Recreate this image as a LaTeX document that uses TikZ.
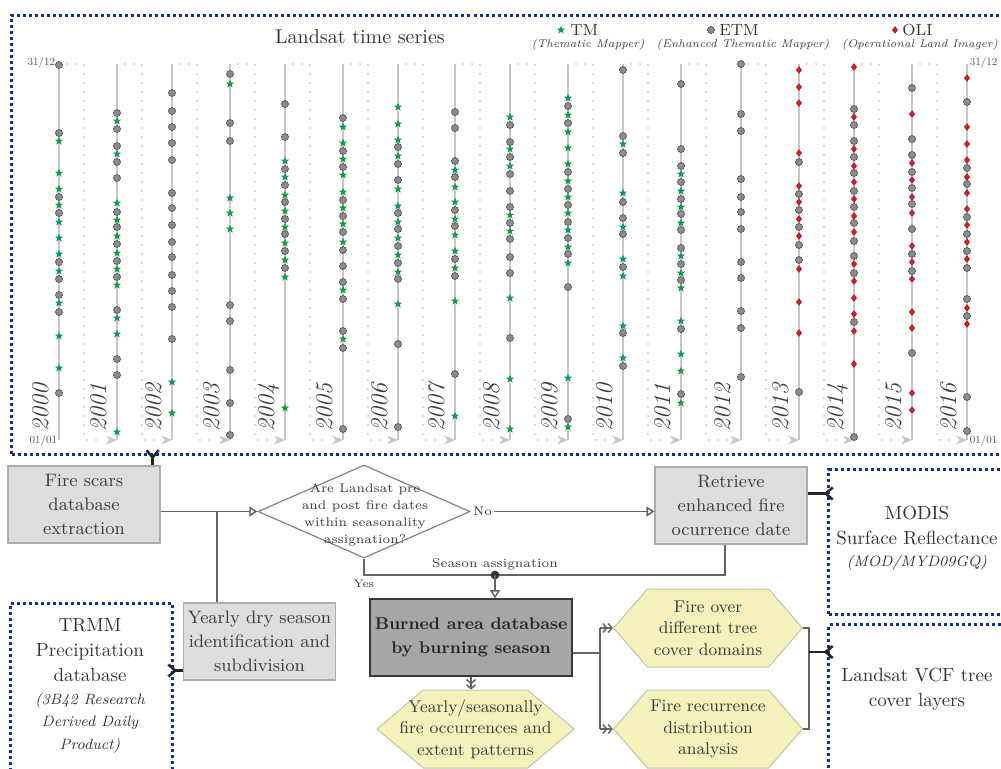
\documentclass[tikz,border=0pt]{standalone}
\usepackage{fontspec}
\usetikzlibrary{arrows.meta,shapes.geometric,shapes.symbols,calc}

\definecolor{tmgreen}{RGB}{16,158,72}
\definecolor{etmfill}{RGB}{140,140,140}
\definecolor{etmedge}{RGB}{85,85,85}
\definecolor{olired}{RGB}{226,24,32}
\definecolor{axisgray}{RGB}{198,198,198}
\definecolor{dotgray}{RGB}{185,185,185}
\definecolor{framblue}{RGB}{18,48,155}
\definecolor{boxfill}{RGB}{221,221,221}
\definecolor{boxedge}{RGB}{172,172,172}
\definecolor{burnfill}{RGB}{166,166,166}
\definecolor{burnedge}{RGB}{55,55,55}
\definecolor{hexfill}{RGB}{245,241,186}
\definecolor{hexedge}{RGB}{195,195,175}
\definecolor{flowgray}{RGB}{100,100,100}
\definecolor{txtgray}{RGB}{60,60,60}

\newcommand{\fsz}[2]{\fontsize{#1}{#2}\selectfont}
% markers of the three sensors
\newcommand{\etmpts}[2]{\foreach \d in {#2}{\filldraw[etmdot] (#1,\d) circle (1.75pt);}}
\newcommand{\tmpts}[2]{\foreach \d in {#2}{\fill[tmgreen] (#1,\d) +(90:2.2pt) -- +(126:0.9pt) -- +(162:2.2pt) -- +(198:0.9pt) -- +(234:2.2pt) -- +(270:0.9pt) -- +(306:2.2pt) -- +(342:0.9pt) -- +(18:2.2pt) -- +(54:0.9pt) -- cycle;}}
\newcommand{\olipts}[2]{\foreach \d in {#2}{\filldraw[olidot] (#1,\d) +(0pt,1.7pt) -- +(1.3pt,0pt) -- +(0pt,-1.7pt) -- +(-1.3pt,0pt) -- cycle;}}

\begin{document}
\begin{tikzpicture}[x=0.5pt,y=-0.5pt,
  axisline/.style={axisgray, line width=0.75pt},
  wrapdots/.style={dotgray, line width=0.8pt, line cap=round, dash pattern=on 0pt off 4.5pt},
  wraptip/.style={fill=axisgray},
  etmdot/.style={fill=etmfill, draw=etmedge, line width=0.35pt},
  olidot/.style={fill=olired, draw=olired!70!black, line width=0.2pt},
  yearlbl/.style={font=\fsz{12}{14}\itshape, text=txtgray, inner sep=0pt},
  datelbl/.style={font=\fsz{10}{12}, scale=0.55, transform shape, text=txtgray!90, inner sep=0.5pt},
  titletxt/.style={font=\fsz{10}{12}, text=black!80},
  legname/.style={font=\fsz{8}{9}, text=black!80, inner sep=1pt},
  legsub/.style={font=\fsz{5.6}{7}\itshape, text=txtgray, inner sep=1pt},
  procbox/.style={rectangle, draw=boxedge, fill=boxfill, line width=0.6pt, text=txtgray, align=center, font=\fsz{9}{12}, minimum width=76pt, minimum height=38.5pt, inner sep=1pt},
  burnbox/.style={procbox, fill=burnfill, draw=burnedge, line width=0.8pt, text=black!85, font=\fsz{8.5}{12}\bfseries, minimum width=101pt},
  hexnode/.style={signal, signal to=west and east, signal pointer angle=98, draw=hexedge, fill=hexfill, line width=0.5pt, text=txtgray, align=center, font=\fsz{8.5}{10.75}, minimum width=94.5pt, minimum height=39pt, inner xsep=-12pt, inner ysep=0pt},
  asknode/.style={diamond, draw=flowgray!80, fill=white, line width=0.6pt, minimum width=106pt, minimum height=46.5pt, inner sep=0pt},
  asktext/.style={align=center, font=\fsz{6.3}{8.5}, text=txtgray},
  lbl/.style={font=\fsz{6.3}{7.5}, text=txtgray, inner sep=1pt},
  flow/.style={flowgray, line width=0.75pt},
  openhead/.style={-{Triangle[fill=white, length=4pt, width=5pt]}},
  dblhead/.style={-{Straight Barb[length=1.8pt,width=4.5pt] Straight Barb[length=1.8pt,width=4.5pt]}},
  feed/.style={black!85, line width=1.3pt, -{Straight Barb[reversed, length=3.5pt, width=6pt]}, shorten >=-3.5pt},
  dataframe/.style={draw=framblue, line width=1.5pt, dash pattern=on 1.5pt off 1.5pt, inner sep=0pt},
  frametxt/.style={align=center, font=\fsz{9.5}{12.5}, text=black!80},
  framesub/.style={align=center, font=\fsz{7.5}{11.25}\itshape, text=black!80}]
\useasboundingbox (0,0) rectangle (1001,768);

% frames
\node[dataframe, anchor=north west, minimum width=500pt, minimum height=219.5pt] (landsat) at (10,14) {};
\node[dataframe, anchor=north west, minimum width=92pt, minimum height=72.5pt] (modis) at (827,468) {};
\node[dataframe, anchor=north west, minimum width=92pt, minimum height=85pt] (vcf) at (827,623) {};
\node[dataframe, anchor=north west, minimum width=81pt, minimum height=95pt] (trmm) at (9,602) {};

\node[titletxt] (title) at (360,37) {Landsat time series};
\node[legname, anchor=west] (tmname) at (568,30) {TM};
\node[legsub] (tmsub) at (588,45) {(Thematic Mapper)};
\tmpts{561}{30}
\node[legname, anchor=west] (etmname) at (717,30) {ETM};
\node[legsub] (etmsub) at (743,45) {(Enhanced Thematic Mapper)};
\etmpts{711}{30}
\node[legname, anchor=west] (oliname) at (900,30) {OLI};
\node[legsub] (olisub) at (920,45) {(Operational Land Imager)};
\olipts{895}{30}

% year axes
\foreach \cx/\nx in {59/117,117/172,172/230,230/285,285/343,343/398,398/455,455/510,510/568,568/623,623/681,681/741,741/799,799/854,854/912,912/967}{
  \draw[wrapdots] (\cx+8,64) -- (\cx+25,64) -- (\cx+25,440) -- (\nx-13,440);
  \fill[wraptip] (\nx,440) -- (\nx-11,435.5) -- (\nx-7.5,440) -- (\nx-11,444.5) -- cycle;
}
\foreach \yr/\cx in {2000/59,2001/117,2002/172,2003/230,2004/285,2005/343,2006/398,2007/455,2008/510,2009/568,2010/623,2011/681,2012/741,2013/799,2014/854,2015/912,2016/967}{
  \draw[axisline] (\cx,64) -- (\cx,440);
  \node[yearlbl, anchor=base west, rotate=90] (y\yr) at (\cx-11,432) {\yr};
}
\node[datelbl, anchor=east] (endleft) at (56,63) {31/12};
\node[datelbl, anchor=east] (startleft) at (58,441) {01/01};
\node[datelbl, anchor=west] (endright) at (969,63) {31/12};
\node[datelbl, anchor=west] (startright) at (969,441) {01/01};

% acquisitions
\etmpts{59}{65,133,197,213,262,279,295,312,393}
\tmpts{59}{141,173,189,205,222,238,254,271,303,336,368}
\etmpts{117}{113,129,146,162,178,212,227,244,261,277,310,359,375}
\tmpts{117}{121,154,203,220,236,253,269,285,318,334,432}
\etmpts{172}{93,111,127,143,160,193,208,225,242,257,275,291,307,339}
\tmpts{172}{382,413}
\etmpts{230}{74,123,141,305,321,370,403,435}
\tmpts{230}{84,198,213,229}
\etmpts{285}{104,137,169,185,202,219,234,251,268}
\tmpts{285}{161,177,195,211,227,243,260,277,408}
\etmpts{343}{118,151,167,200,216,232,250,266,282,299,331,348,429}
\tmpts{343}{127,143,159,175,192,208,224,242,290,339}
\etmpts{398}{147,164,180,213,229,246,263,279,344,427}
\tmpts{398}{107,124,140,156,189,206,222,238,255,272,304}
\etmpts{455}{112,128,161,177,210,226,259,276,374}
\tmpts{455}{170,187,202,219,235,251,268,301,416}
\etmpts{510}{125,142,157,174,191,207,223,239,257,273,338}
\tmpts{510}{117,149,166,215,231,298,379,429}
\etmpts{568}{106,123,172,189,205,222,238,254,287,419}
\tmpts{568}{98,115,132,148,164,181,197,213,230,247,263,378,427}
\etmpts{623}{70,136,153,202,218,234,267,333,366}
\tmpts{623}{144,193,227,259,276,326,358}
\etmpts{681}{84,149,166,182,199,214,230,248,264,280,329,394}
\tmpts{681}{174,191,207,223,256,273,288,321,354,371,403}
\etmpts{741}{64,114,131,179,197,212,229,262,278,311,328,377}
\etmpts{799}{162,194,210,227,245,260,392}
\olipts{799}{70,87,103,153,186,202,219,236,269,302,333}
\etmpts{854}{109,125,141,157,173,191,207,223,241,256,273,322,437}
\olipts{854}{67,117,149,166,182,199,216,232,264,281,298,314,331,364}
\etmpts{912}{88,139,155,172,188,204,229,254,271,353}
\olipts{912}{114,163,180,197,213,246,262,279,312,328,393,410}
\etmpts{967}{102,168,184,217,234,251,268,299,316,397,431}
\olipts{967}{78,127,144,160,177,193,209,225,242,259,308,324}

% workflow
\node[procbox] (fire) at (84,504.5) {Fire scars\\database\\extraction};
\node[procbox] (dry) at (259.5,641.5) {Yearly dry season\\identification and\\subdivision};
\node[procbox] (retr) at (731,505.5) {Retrieve\\enhanced fire\\ocurrence date};
\node[asknode] (ask) at (364,511.5) {};
\node[asktext] (asktxt) at (365,514.5) {Are Landsat pre\\and post fire dates\\within seasonality\\assignation?};
\node[burnbox] (burn) at (471,637.5) {Burned area database\\by burning season};
\node[hexnode, signal pointer angle=80] (yearly) at (475.5,729) {Yearly/seasonally\\fire occurrences and\\extent patterns};
\node[hexnode] (treecover) at (708,628) {Fire over\\different tree\\cover domains};
\node[hexnode] (recurrence) at (708,729) {Fire recurrence\\distribution\\analysis};

\node[frametxt] (modistxt) at (917,525.5) {MODIS\\Surface Reflectance};
\node[framesub] (modissub) at (917,563) {(MOD/MYD09GQ)};
\node[frametxt] (vcftxt) at (917,689.5) {Landsat VCF tree\\cover layers};
\node[frametxt] (trmmtxt) at (90,650.5) {TRMM\\Precipitation\\database};
\node[framesub] (trmmsub) at (90,723) {(3B42 Research\\Derived Daily\\Product)};

\draw[flow, openhead] (fire.east |- ask.west) -- (ask.west);
\coordinate (drytop) at ($(dry.north west)+(34,0)$);
\draw[flow] (drytop) -- (drytop |- ask.west);
\node[lbl, anchor=west] (nolbl) at (ask.east) {No};
\draw[flow, openhead] (nolbl.east) -- (nolbl.east -| retr.west);
\coordinate (season) at (495,575);
\coordinate (retrdown) at ($(retr.south)+(-6,0)$);
\draw[flow] (ask.south) |- (season) -| (retrdown);
\fill[black!80] (season) circle (2.2pt);
\draw[flow, openhead] (season) -- (season |- burn.north);
\node[lbl, anchor=south] (seasonlbl) at ($(season)+(0,-3)$) {Season assignation};
\node[lbl, anchor=north, font=\fsz{5.5}{6.5}] (yeslbl) at ($(ask.south |- season)+(0,3)$) {Yes};

\draw[flow, dblhead] (burn.south) -- (burn.south |- yearly.north);
\coordinate (fork) at (600,653);
\draw[flow] (fork -| burn.east) -- (fork);
\draw[flow] (fork |- treecover.west) -- (fork |- recurrence.west);
\draw[flow, dblhead] (fork |- treecover.west) -- (treecover.west);
\draw[flow, dblhead] (fork |- recurrence.west) -- (recurrence.west);
\draw[flow] (treecover.east) -- ++(6,0) |- (recurrence.east);

% data inputs
\coordinate (firetop) at ($(fire.north east)+(-8,0)$);
\draw[feed] (firetop) -- (firetop |- landsat.south);
\coordinate (retrout) at ($(retr.east)+(0,-12)$);
\draw[feed] (retrout) -- (retrout -| modis.west);
\coordinate (dryin) at ($(dry.west)+(0,29)$);
\draw[feed] (dryin) -- (dryin -| trmm.east);
\coordinate (bracket) at ($(treecover.east)+(6,24)$);
\draw[feed] (bracket) -- (bracket -| vcf.west);
\end{tikzpicture}
\end{document}
